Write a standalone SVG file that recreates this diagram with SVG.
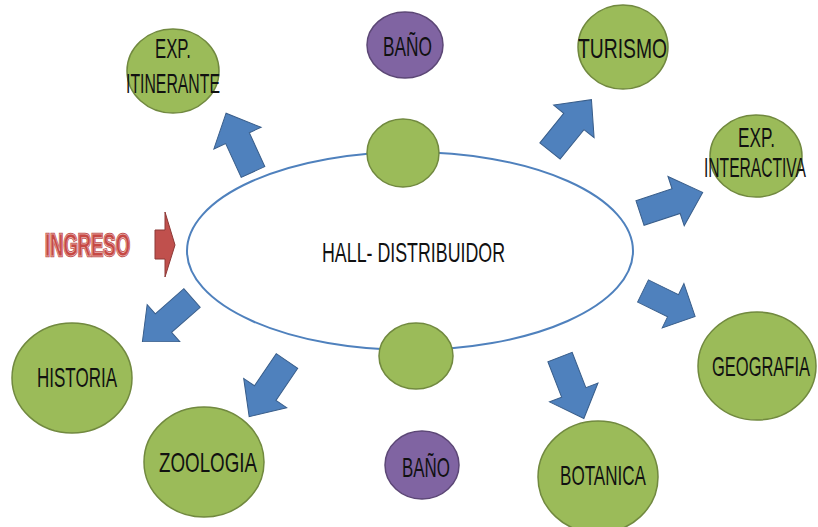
<svg xmlns="http://www.w3.org/2000/svg" width="818" height="527" viewBox="0 0 818 527">
<defs>
<style>
.g{fill:#9bbb59;stroke:#71893f;stroke-width:1.5}
.p{fill:#8064a2;stroke:#5c4776;stroke-width:1.5}
.t{font-family:"Liberation Sans",Arial,sans-serif;font-size:28px;fill:#111;text-anchor:middle}
.a{fill:#4f81bd;stroke:#385d8a;stroke-width:1}
.ing{font-family:"Liberation Sans",Arial,sans-serif;font-size:32px;font-weight:bold;text-anchor:middle}
</style>
<path id="arr" d="M0,-13 L38,-13 L38,-26 L66,0 L38,26 L38,13 L0,13 Z"/>
</defs>
<rect width="818" height="527" fill="#fff"/>
<g id="hall">
<ellipse cx="410" cy="251" rx="223" ry="99" fill="#fff" stroke="#4f81bd" stroke-width="2"/>
<text class="t" x="413.5" y="262" textLength="183" lengthAdjust="spacingAndGlyphs">HALL- DISTRIBUIDOR</text>
</g>
<g id="connectors">
<use href="#arr" class="a" transform="translate(253,172) rotate(-114.6) scale(0.98,1)"/>
<use href="#arr" class="a" transform="translate(550,151) rotate(-51.1)"/>
<use href="#arr" class="a" transform="translate(640,213) rotate(-18.2)"/>
<use href="#arr" class="a" transform="translate(643,291) rotate(26.1) scale(0.88,0.95)"/>
<use href="#arr" class="a" transform="translate(560,357) rotate(68.8)"/>
<use href="#arr" class="a" transform="translate(287,361) rotate(124.2) scale(1.02,1)"/>
<use href="#arr" class="a" transform="translate(192,298) rotate(138.7) scale(1,0.95)"/>
<path d="M155,230 L165,230 L165,212 L175,245 L165,277 L165,259 L155,259 Z" fill="#c0504d" stroke="#8c3836" stroke-width="1"/>
</g>
<g id="ingreso">
<text class="ing" x="87.5" y="256" textLength="85" lengthAdjust="spacingAndGlyphs" fill="#c0504d" stroke="#c0504d" stroke-width="2.5">INGRESO</text>
<text class="ing" x="87.5" y="256" textLength="85" lengthAdjust="spacingAndGlyphs" fill="#c64844" stroke="#f4dcdb" stroke-width="0.6">INGRESO</text>
</g>
<g id="hall-top"><ellipse class="g" cx="403" cy="153" rx="36" ry="34"/></g>
<g id="hall-bottom"><ellipse class="g" cx="416" cy="356" rx="37" ry="33"/></g>
<g id="exp-itinerante">
<ellipse class="g" cx="173" cy="71" rx="46" ry="42"/>
<text class="t" x="173" y="58" textLength="36" lengthAdjust="spacingAndGlyphs">EXP.</text>
<text class="t" x="173" y="93" textLength="94" lengthAdjust="spacingAndGlyphs">ITINERANTE</text>
</g>
<g id="bano-top">
<ellipse class="p" cx="405" cy="45" rx="38" ry="33"/>
<text class="t" x="407.5" y="56" textLength="49" lengthAdjust="spacingAndGlyphs">BAÑO</text>
</g>
<g id="turismo">
<ellipse class="g" cx="623" cy="47" rx="45" ry="42"/>
<text class="t" x="622.5" y="58" textLength="89" lengthAdjust="spacingAndGlyphs">TURISMO</text>
</g>
<g id="exp-interactiva">
<ellipse class="g" cx="756" cy="156" rx="46" ry="41"/>
<text class="t" x="756.5" y="147" textLength="37" lengthAdjust="spacingAndGlyphs">EXP.</text>
<text class="t" x="755" y="177" textLength="102" lengthAdjust="spacingAndGlyphs">INTERACTIVA</text>
</g>
<g id="geografia">
<ellipse class="g" cx="757" cy="366" rx="59" ry="54"/>
<text class="t" x="761" y="376" textLength="98" lengthAdjust="spacingAndGlyphs">GEOGRAFIA</text>
</g>
<g id="botanica">
<ellipse class="g" cx="598" cy="477" rx="60" ry="56"/>
<text class="t" x="603" y="485" textLength="86" lengthAdjust="spacingAndGlyphs">BOTANICA</text>
</g>
<g id="bano-bottom">
<ellipse class="p" cx="422" cy="465" rx="37" ry="34"/>
<text class="t" x="426" y="477" textLength="48" lengthAdjust="spacingAndGlyphs">BAÑO</text>
</g>
<g id="zoologia">
<ellipse class="g" cx="204" cy="462" rx="60" ry="55"/>
<text class="t" x="208" y="472" textLength="98" lengthAdjust="spacingAndGlyphs">ZOOLOGIA</text>
</g>
<g id="historia">
<ellipse class="g" cx="72" cy="378" rx="60" ry="55"/>
<text class="t" x="77" y="387" textLength="80" lengthAdjust="spacingAndGlyphs">HISTORIA</text>
</g>
</svg>
